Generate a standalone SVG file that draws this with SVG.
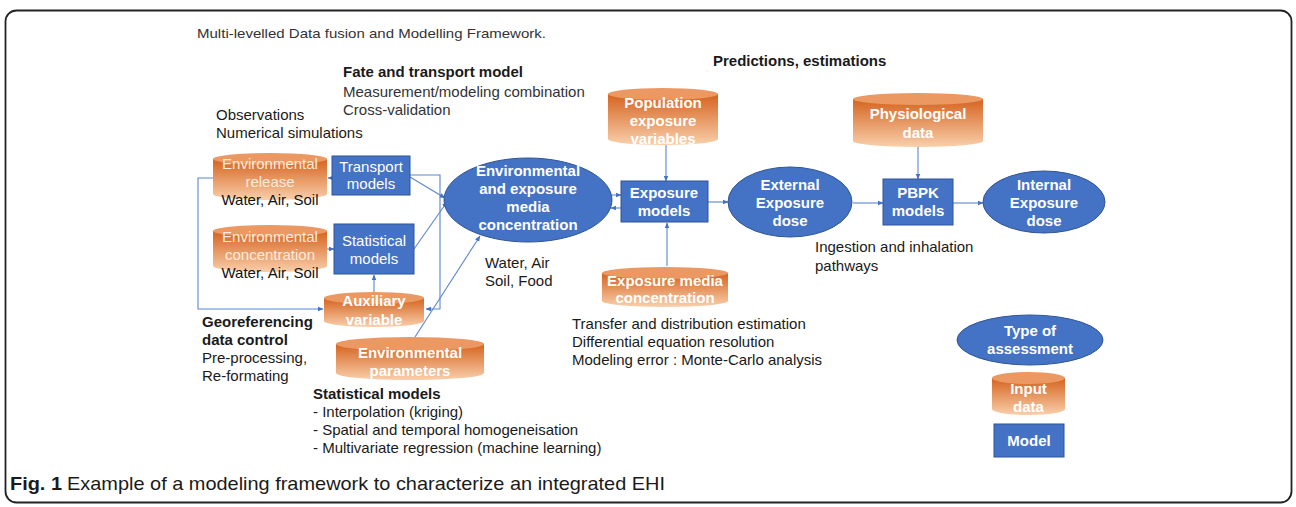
<svg xmlns="http://www.w3.org/2000/svg" width="1296" height="507" viewBox="0 0 1296 507">
<defs>
<linearGradient id="cyl" x1="0" y1="0" x2="0" y2="1">
<stop offset="0" stop-color="#d5631f"/>
<stop offset="1" stop-color="#f9cfab"/>
</linearGradient>
<marker id="ah" viewBox="0 0 10 10" refX="9" refY="5" markerWidth="6" markerHeight="6" orient="auto" markerUnits="userSpaceOnUse">
<path d="M0,1 L10,5 L0,9 Z" fill="#4472c4"/>
</marker>
<style>
.t{font-family:"Liberation Sans",Arial,sans-serif;font-size:15px;fill:#1a1a1a}
.b{font-weight:bold}
.w{font-family:"Liberation Sans",Arial,sans-serif;font-size:15px;font-weight:bold;fill:#fff;text-anchor:middle}
.wl{font-family:"Liberation Sans",Arial,sans-serif;font-size:15px;fill:#fdebdc;text-anchor:middle}
.wn{font-family:"Liberation Sans",Arial,sans-serif;font-size:15px;fill:#fff;text-anchor:middle}
.k{font-family:"Liberation Sans",Arial,sans-serif;font-size:15px;fill:#111;text-anchor:middle}
.body{fill:url(#cyl)}
.cap{fill:#eb9862}
.box{fill:#4472c4;stroke:#2f5597;stroke-width:1}
.ell{fill:#4472c4;stroke:#2f5597;stroke-width:1}
.ca{fill:none;stroke:#5b86d0;stroke-width:1.1;marker-end:url(#ah)}
</style>
</defs>
<rect x="0" y="0" width="1296" height="507" fill="#fff"/>
<rect x="5.5" y="10.5" width="1286" height="492" rx="11" fill="none" stroke="#222" stroke-width="1.8"/>

<g id="texts">
<text class="t" x="197" y="38" style="font-size:13.5px;fill:#333" textLength="349" lengthAdjust="spacingAndGlyphs">Multi-levelled Data fusion and Modelling Framework.</text>
<text class="t b" x="713" y="66">Predictions, estimations</text>
<text class="t b" x="343" y="77">Fate and transport model</text>
<text class="t" x="343" y="97" style="fill:#333">Measurement/modeling combination</text>
<text class="t" x="343" y="115" style="fill:#333">Cross-validation</text>
<text class="t" x="216" y="120">Observations</text>
<text class="t" x="216" y="138">Numerical simulations</text>
<text class="t b" x="202" y="327">Georeferencing</text>
<text class="t b" x="202" y="345">data control</text>
<text class="t" x="202" y="363">Pre-processing,</text>
<text class="t" x="202" y="381">Re-formating</text>
<text class="t b" x="313" y="399">Statistical models</text>
<text class="t" x="313" y="417">- Interpolation (kriging)</text>
<text class="t" x="313" y="435">- Spatial and temporal homogeneisation</text>
<text class="t" x="313" y="453">- Multivariate regression (machine learning)</text>
<text class="t" x="485" y="268">Water, Air</text>
<text class="t" x="485" y="286">Soil, Food</text>
<text class="t" x="572" y="329">Transfer and distribution estimation</text>
<text class="t" x="572" y="347">Differential equation resolution</text>
<text class="t" x="572" y="365">Modeling error : Monte-Carlo analysis</text>
<text class="t" x="815" y="252">Ingestion and inhalation</text>
<text class="t" x="815" y="271">pathways</text>
<text x="10" y="490" style="font-family:'Liberation Sans Narrow','Liberation Sans',sans-serif;font-size:19px;font-weight:bold;fill:#1a1a1a" textLength="52" lengthAdjust="spacingAndGlyphs">Fig. 1</text>
<text x="67" y="490" style="font-family:'Liberation Sans Narrow','Liberation Sans',sans-serif;font-size:19px;fill:#1a1a1a" textLength="598" lengthAdjust="spacingAndGlyphs">Example of a modeling framework to characterize an integrated EHI</text>
</g>

<g id="connectors">
<polyline class="ca" points="410,175 440,175 440,309 426,309"/>
<polyline class="ca" points="213,178 198,178 198,309 323,309"/>
<line class="ca" x1="333" y1="178" x2="328" y2="178"/>
<line class="ca" x1="327" y1="249" x2="334" y2="249"/>
<line class="ca" x1="374" y1="292" x2="374" y2="275"/>
<line class="ca" x1="410" y1="177" x2="445" y2="198"/>
<line class="ca" x1="414" y1="249" x2="447" y2="202"/>
<line class="ca" x1="415" y1="337" x2="480" y2="236"/>
<line class="ca" x1="612" y1="195" x2="621" y2="195"/>
<line class="ca" x1="621" y1="208" x2="611" y2="208"/>
<line class="ca" x1="666" y1="145" x2="666" y2="181"/>
<line class="ca" x1="667" y1="266" x2="667" y2="223"/>
<line class="ca" x1="708" y1="202" x2="728" y2="202"/>
<line class="ca" x1="853" y1="203" x2="883" y2="203"/>
<line class="ca" x1="918" y1="147" x2="918" y2="179"/>
<line class="ca" x1="953" y1="203" x2="983" y2="203"/>
</g>

<g id="env-release">
<path class="body" d="M213,159 V194 A57,6 0 0 0 327,194 V159 Z"/>
<ellipse class="cap" cx="270" cy="159" rx="57" ry="6"/>
<text class="wl" x="270" y="169">Environmental</text>
<text class="wl" x="270" y="187">release</text>
<text class="k" x="270" y="205">Water, Air, Soil</text>
</g>

<g id="env-concentration">
<path class="body" d="M213,231 V266 A57,6 0 0 0 327,266 V231 Z"/>
<ellipse class="cap" cx="270" cy="231" rx="57" ry="6"/>
<text class="wl" x="270" y="242">Environmental</text>
<text class="wl" x="270" y="260">concentration</text>
<text class="k" x="270" y="278">Water, Air, Soil</text>
</g>

<g id="transport-models">
<rect class="box" x="332" y="156" width="78" height="39"/>
<text class="wn" x="371" y="172">Transport</text>
<text class="wn" x="371" y="189">models</text>
</g>

<g id="statistical-models">
<rect class="box" x="334" y="224" width="80" height="50"/>
<text class="wn" x="374" y="246">Statistical</text>
<text class="wn" x="374" y="264">models</text>
</g>

<g id="auxiliary">
<path class="body" d="M324,298 V321 A50,6 0 0 0 424,321 V298 Z"/>
<ellipse class="cap" cx="374" cy="298" rx="50" ry="6"/>
<text class="w" x="374" y="306">Auxiliary</text>
<text class="w" x="374" y="325">variable</text>
</g>

<g id="env-parameters">
<path class="body" d="M336,344 V373 A74,7 0 0 0 484,373 V344 Z"/>
<ellipse class="cap" cx="410" cy="344" rx="74" ry="7"/>
<text class="w" x="410" y="358">Environmental</text>
<text class="w" x="410" y="376">parameters</text>
</g>

<g id="env-exposure-media">
<ellipse class="ell" cx="528" cy="200" rx="84" ry="42"/>
<text class="w" x="528" y="176">Environmental</text>
<text class="w" x="528" y="194">and exposure</text>
<text class="w" x="528" y="212">media</text>
<text class="w" x="528" y="230">concentration</text>
</g>

<g id="population">
<path class="body" d="M608,94 V139 A55,6 0 0 0 718,139 V94 Z"/>
<ellipse class="cap" cx="663" cy="94" rx="55" ry="6"/>
<text class="w" x="663" y="108">Population</text>
<text class="w" x="663" y="126">exposure</text>
<text class="w" x="663" y="144">variables</text>
</g>

<g id="exposure-models">
<rect class="box" x="621" y="181" width="87" height="41"/>
<text class="w" x="664" y="198">Exposure</text>
<text class="w" x="664" y="216">models</text>
</g>

<g id="exposure-media-conc">
<path class="body" d="M602,273 V301 A63,6 0 0 0 728,301 V273 Z"/>
<ellipse class="cap" cx="665" cy="273" rx="63" ry="6"/>
<text class="w" x="665" y="286">Exposure media</text>
<text class="w" x="665" y="303">concentration</text>
</g>

<g id="external-dose">
<ellipse class="ell" cx="790" cy="202" rx="62" ry="35"/>
<text class="w" x="790" y="190">External</text>
<text class="w" x="790" y="208">Exposure</text>
<text class="w" x="790" y="226">dose</text>
</g>

<g id="physiological">
<path class="body" d="M853,99 V141 A65,6 0 0 0 983,141 V99 Z"/>
<ellipse class="cap" cx="918" cy="99" rx="65" ry="6"/>
<text class="w" x="918" y="119">Physiological</text>
<text class="w" x="918" y="138">data</text>
</g>

<g id="pbpk">
<rect class="box" x="883" y="179" width="70" height="46"/>
<text class="w" x="918" y="198">PBPK</text>
<text class="w" x="918" y="216">models</text>
</g>

<g id="internal-dose">
<ellipse class="ell" cx="1044" cy="202" rx="61" ry="31"/>
<text class="w" x="1044" y="190">Internal</text>
<text class="w" x="1044" y="208">Exposure</text>
<text class="w" x="1044" y="226">dose</text>
</g>

<g id="legend-type">
<ellipse class="ell" cx="1030" cy="340" rx="73" ry="25"/>
<text class="w" x="1030" y="336">Type of</text>
<text class="w" x="1030" y="354">assessment</text>
</g>

<g id="legend-input">
<path class="body" d="M992,378 V409 A36.5,6 0 0 0 1065,409 V378 Z"/>
<ellipse class="cap" cx="1028.5" cy="378" rx="36.5" ry="6"/>
<text class="w" x="1028.5" y="394">Input</text>
<text class="w" x="1028.5" y="412">data</text>
</g>

<g id="legend-model">
<rect class="box" x="994" y="424" width="70" height="33"/>
<text class="w" x="1029" y="446">Model</text>
</g>
</svg>
